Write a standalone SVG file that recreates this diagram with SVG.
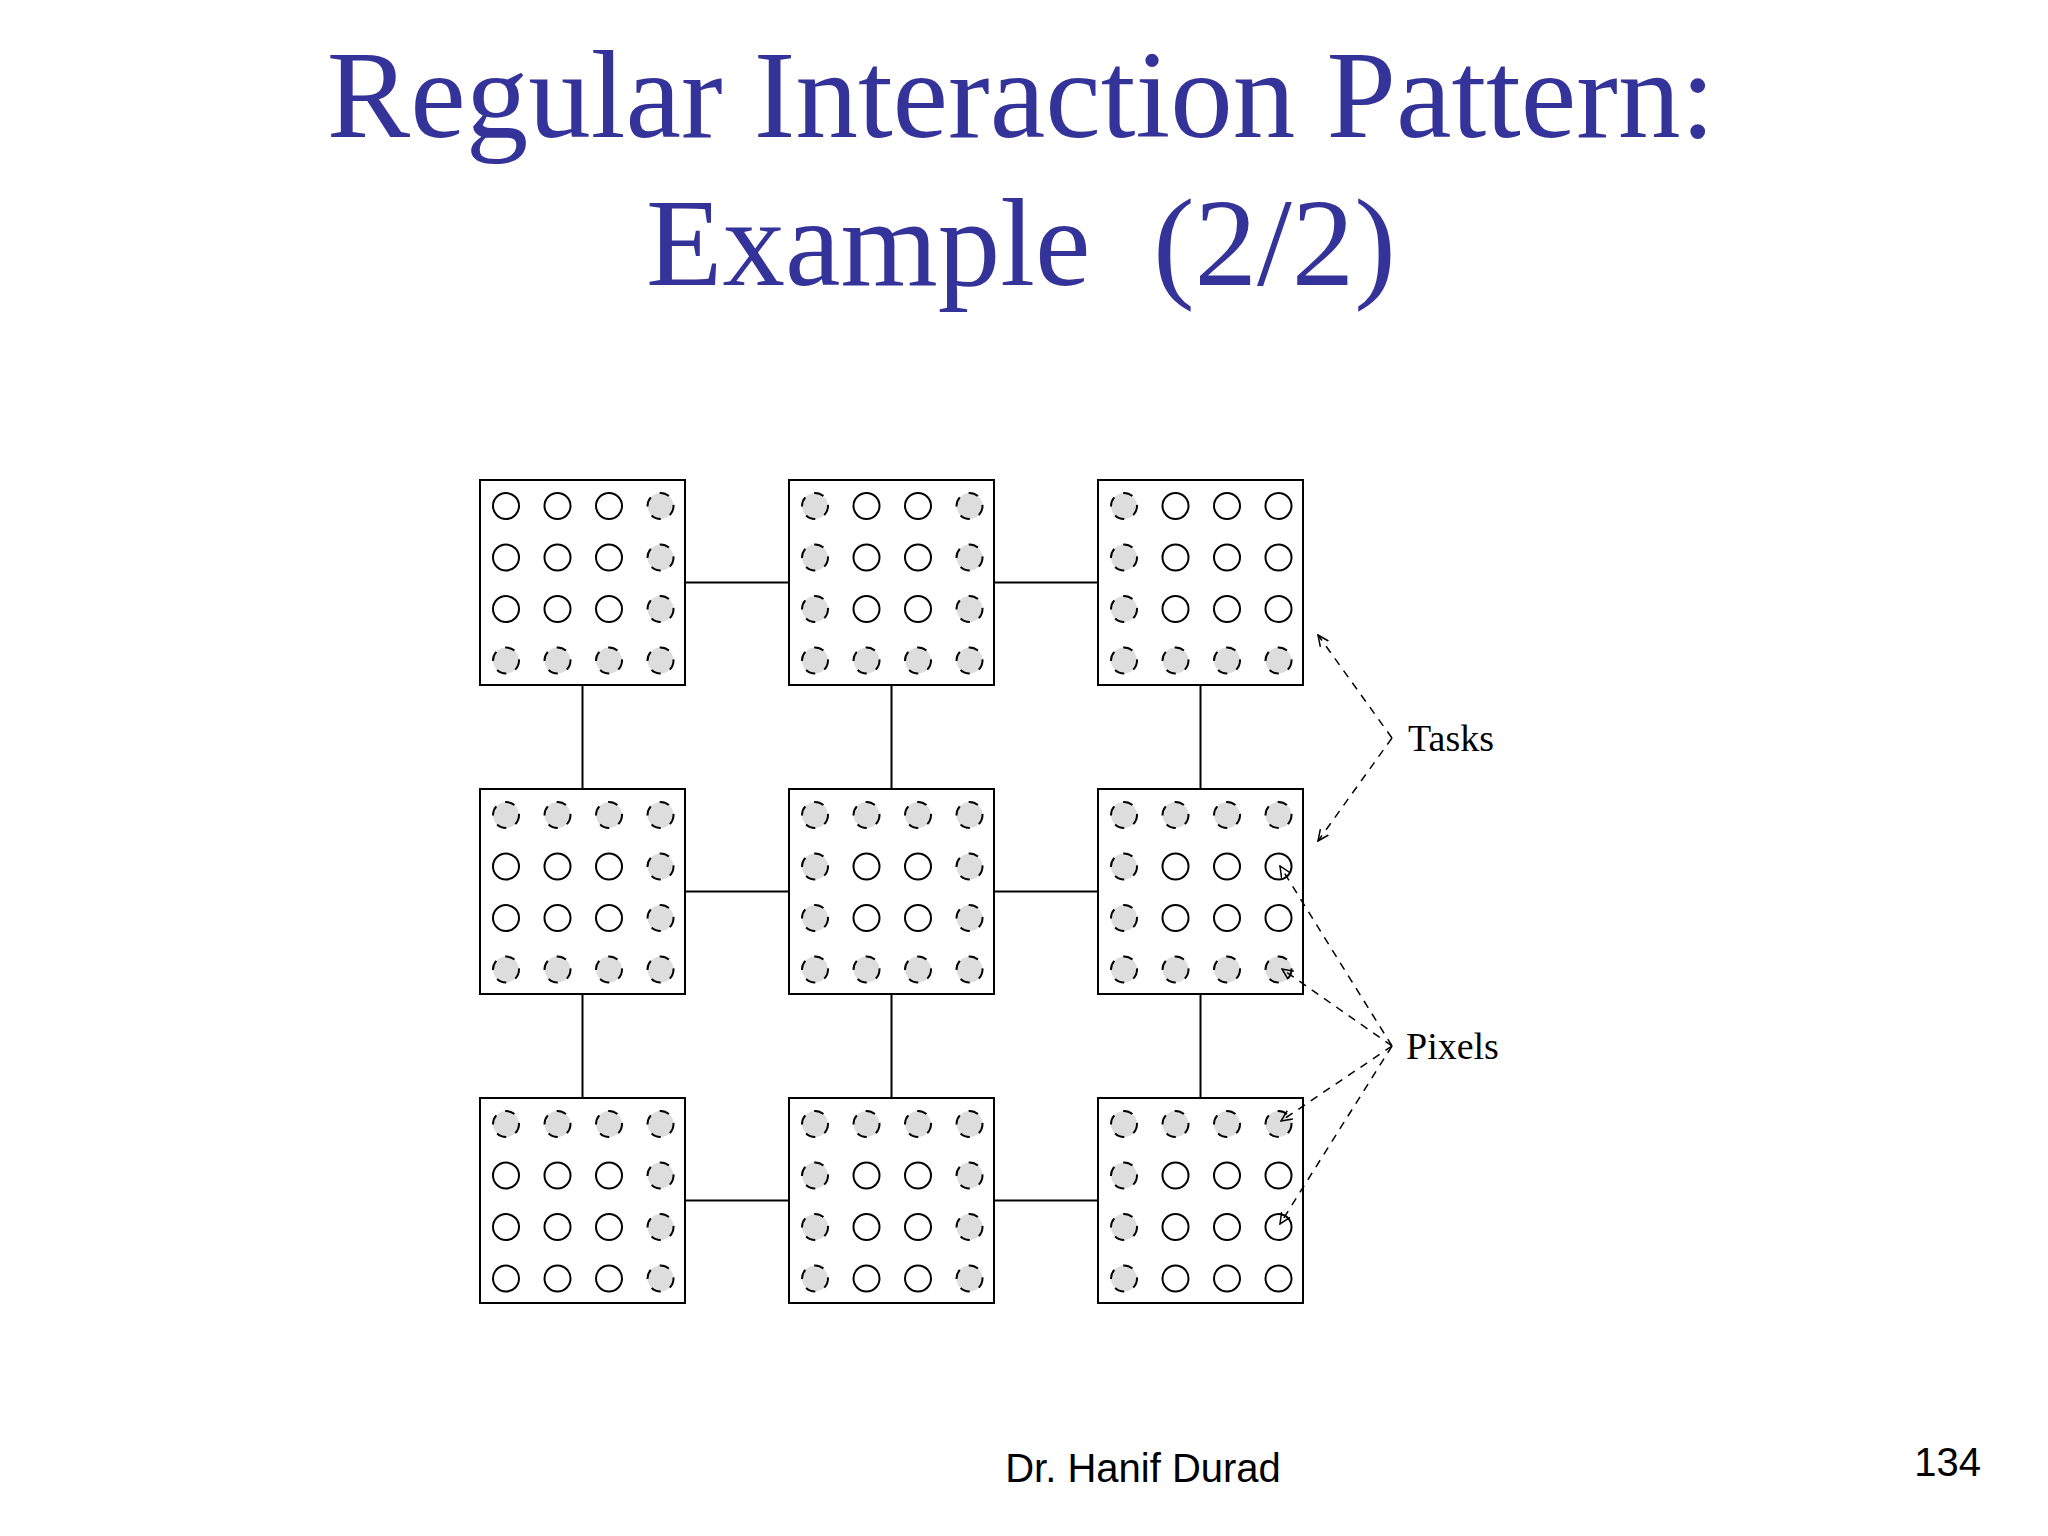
<svg xmlns="http://www.w3.org/2000/svg" width="2048" height="1536" viewBox="0 0 2048 1536">
<style>
.t{font-family:"Liberation Serif",serif;fill:#333399;font-size:125px;text-anchor:middle;white-space:pre}
.l{font-family:"Liberation Serif",serif;font-size:38px;fill:#000}
.f{font-family:"Liberation Sans",sans-serif;font-size:40px;fill:#000}
.box{fill:#fff;stroke:#000;stroke-width:2}
.p{fill:#fff;stroke:#000;stroke-width:2}
.b{fill:#ddd;stroke:#000;stroke-width:2;stroke-dasharray:10 10}
.c{stroke:#000;stroke-width:2;fill:none}
.d{stroke:#000;stroke-width:1.5;fill:none;stroke-dasharray:8 7}
</style>
<defs>
<circle id="p" r="13" class="p"/>
<circle id="b" r="13" class="b"/>
<marker id="ar" viewBox="0 0 12 12" refX="11" refY="6" markerWidth="12" markerHeight="12" markerUnits="userSpaceOnUse" orient="auto"><path d="M0,1 L11,6 L0,11" fill="none" stroke="#000" stroke-width="1.5"/></marker>
</defs>
<rect width="2048" height="1536" fill="#fff"/>
<text class="t" x="1021" y="137">Regular Interaction Pattern:</text>
<text class="t" x="1021" y="285" xml:space="preserve">Example  (2/2)</text>
<g id="task00" transform="translate(480,480)"><rect class="box" width="205" height="205"/>
<use href="#p" x="26" y="26"/><use href="#p" x="77.5" y="26"/><use href="#p" x="129" y="26"/><use href="#b" x="180.5" y="26"/>
<use href="#p" x="26" y="77.5"/><use href="#p" x="77.5" y="77.5"/><use href="#p" x="129" y="77.5"/><use href="#b" x="180.5" y="77.5"/>
<use href="#p" x="26" y="129"/><use href="#p" x="77.5" y="129"/><use href="#p" x="129" y="129"/><use href="#b" x="180.5" y="129"/>
<use href="#b" x="26" y="180.5"/><use href="#b" x="77.5" y="180.5"/><use href="#b" x="129" y="180.5"/><use href="#b" x="180.5" y="180.5"/></g>
<g id="task01" transform="translate(789,480)"><rect class="box" width="205" height="205"/>
<use href="#b" x="26" y="26"/><use href="#p" x="77.5" y="26"/><use href="#p" x="129" y="26"/><use href="#b" x="180.5" y="26"/>
<use href="#b" x="26" y="77.5"/><use href="#p" x="77.5" y="77.5"/><use href="#p" x="129" y="77.5"/><use href="#b" x="180.5" y="77.5"/>
<use href="#b" x="26" y="129"/><use href="#p" x="77.5" y="129"/><use href="#p" x="129" y="129"/><use href="#b" x="180.5" y="129"/>
<use href="#b" x="26" y="180.5"/><use href="#b" x="77.5" y="180.5"/><use href="#b" x="129" y="180.5"/><use href="#b" x="180.5" y="180.5"/></g>
<g id="task02" transform="translate(1098,480)"><rect class="box" width="205" height="205"/>
<use href="#b" x="26" y="26"/><use href="#p" x="77.5" y="26"/><use href="#p" x="129" y="26"/><use href="#p" x="180.5" y="26"/>
<use href="#b" x="26" y="77.5"/><use href="#p" x="77.5" y="77.5"/><use href="#p" x="129" y="77.5"/><use href="#p" x="180.5" y="77.5"/>
<use href="#b" x="26" y="129"/><use href="#p" x="77.5" y="129"/><use href="#p" x="129" y="129"/><use href="#p" x="180.5" y="129"/>
<use href="#b" x="26" y="180.5"/><use href="#b" x="77.5" y="180.5"/><use href="#b" x="129" y="180.5"/><use href="#b" x="180.5" y="180.5"/></g>
<g id="task10" transform="translate(480,789)"><rect class="box" width="205" height="205"/>
<use href="#b" x="26" y="26"/><use href="#b" x="77.5" y="26"/><use href="#b" x="129" y="26"/><use href="#b" x="180.5" y="26"/>
<use href="#p" x="26" y="77.5"/><use href="#p" x="77.5" y="77.5"/><use href="#p" x="129" y="77.5"/><use href="#b" x="180.5" y="77.5"/>
<use href="#p" x="26" y="129"/><use href="#p" x="77.5" y="129"/><use href="#p" x="129" y="129"/><use href="#b" x="180.5" y="129"/>
<use href="#b" x="26" y="180.5"/><use href="#b" x="77.5" y="180.5"/><use href="#b" x="129" y="180.5"/><use href="#b" x="180.5" y="180.5"/></g>
<g id="task11" transform="translate(789,789)"><rect class="box" width="205" height="205"/>
<use href="#b" x="26" y="26"/><use href="#b" x="77.5" y="26"/><use href="#b" x="129" y="26"/><use href="#b" x="180.5" y="26"/>
<use href="#b" x="26" y="77.5"/><use href="#p" x="77.5" y="77.5"/><use href="#p" x="129" y="77.5"/><use href="#b" x="180.5" y="77.5"/>
<use href="#b" x="26" y="129"/><use href="#p" x="77.5" y="129"/><use href="#p" x="129" y="129"/><use href="#b" x="180.5" y="129"/>
<use href="#b" x="26" y="180.5"/><use href="#b" x="77.5" y="180.5"/><use href="#b" x="129" y="180.5"/><use href="#b" x="180.5" y="180.5"/></g>
<g id="task12" transform="translate(1098,789)"><rect class="box" width="205" height="205"/>
<use href="#b" x="26" y="26"/><use href="#b" x="77.5" y="26"/><use href="#b" x="129" y="26"/><use href="#b" x="180.5" y="26"/>
<use href="#b" x="26" y="77.5"/><use href="#p" x="77.5" y="77.5"/><use href="#p" x="129" y="77.5"/><use href="#p" x="180.5" y="77.5"/>
<use href="#b" x="26" y="129"/><use href="#p" x="77.5" y="129"/><use href="#p" x="129" y="129"/><use href="#p" x="180.5" y="129"/>
<use href="#b" x="26" y="180.5"/><use href="#b" x="77.5" y="180.5"/><use href="#b" x="129" y="180.5"/><use href="#b" x="180.5" y="180.5"/></g>
<g id="task20" transform="translate(480,1098)"><rect class="box" width="205" height="205"/>
<use href="#b" x="26" y="26"/><use href="#b" x="77.5" y="26"/><use href="#b" x="129" y="26"/><use href="#b" x="180.5" y="26"/>
<use href="#p" x="26" y="77.5"/><use href="#p" x="77.5" y="77.5"/><use href="#p" x="129" y="77.5"/><use href="#b" x="180.5" y="77.5"/>
<use href="#p" x="26" y="129"/><use href="#p" x="77.5" y="129"/><use href="#p" x="129" y="129"/><use href="#b" x="180.5" y="129"/>
<use href="#p" x="26" y="180.5"/><use href="#p" x="77.5" y="180.5"/><use href="#p" x="129" y="180.5"/><use href="#b" x="180.5" y="180.5"/></g>
<g id="task21" transform="translate(789,1098)"><rect class="box" width="205" height="205"/>
<use href="#b" x="26" y="26"/><use href="#b" x="77.5" y="26"/><use href="#b" x="129" y="26"/><use href="#b" x="180.5" y="26"/>
<use href="#b" x="26" y="77.5"/><use href="#p" x="77.5" y="77.5"/><use href="#p" x="129" y="77.5"/><use href="#b" x="180.5" y="77.5"/>
<use href="#b" x="26" y="129"/><use href="#p" x="77.5" y="129"/><use href="#p" x="129" y="129"/><use href="#b" x="180.5" y="129"/>
<use href="#b" x="26" y="180.5"/><use href="#p" x="77.5" y="180.5"/><use href="#p" x="129" y="180.5"/><use href="#b" x="180.5" y="180.5"/></g>
<g id="task22" transform="translate(1098,1098)"><rect class="box" width="205" height="205"/>
<use href="#b" x="26" y="26"/><use href="#b" x="77.5" y="26"/><use href="#b" x="129" y="26"/><use href="#b" x="180.5" y="26"/>
<use href="#b" x="26" y="77.5"/><use href="#p" x="77.5" y="77.5"/><use href="#p" x="129" y="77.5"/><use href="#p" x="180.5" y="77.5"/>
<use href="#b" x="26" y="129"/><use href="#p" x="77.5" y="129"/><use href="#p" x="129" y="129"/><use href="#p" x="180.5" y="129"/>
<use href="#b" x="26" y="180.5"/><use href="#p" x="77.5" y="180.5"/><use href="#p" x="129" y="180.5"/><use href="#p" x="180.5" y="180.5"/></g>
<g id="connectors">
<line class="c" x1="685" y1="582.5" x2="789" y2="582.5"/><line class="c" x1="994" y1="582.5" x2="1098" y2="582.5"/>
<line class="c" x1="685" y1="891.5" x2="789" y2="891.5"/><line class="c" x1="994" y1="891.5" x2="1098" y2="891.5"/>
<line class="c" x1="685" y1="1200.5" x2="789" y2="1200.5"/><line class="c" x1="994" y1="1200.5" x2="1098" y2="1200.5"/>
<line class="c" x1="582.5" y1="685" x2="582.5" y2="789"/><line class="c" x1="582.5" y1="994" x2="582.5" y2="1098"/>
<line class="c" x1="891.5" y1="685" x2="891.5" y2="789"/><line class="c" x1="891.5" y1="994" x2="891.5" y2="1098"/>
<line class="c" x1="1200.5" y1="685" x2="1200.5" y2="789"/><line class="c" x1="1200.5" y1="994" x2="1200.5" y2="1098"/>
<line class="d" x1="1392" y1="738" x2="1318" y2="635" marker-end="url(#ar)"/>
<line class="d" x1="1392" y1="738" x2="1318" y2="841" marker-end="url(#ar)"/>
<line class="d" x1="1392" y1="1046" x2="1280" y2="866" marker-end="url(#ar)"/>
<line class="d" x1="1392" y1="1046" x2="1282" y2="969" marker-end="url(#ar)"/>
<line class="d" x1="1392" y1="1046" x2="1281" y2="1121" marker-end="url(#ar)"/>
<line class="d" x1="1392" y1="1046" x2="1280" y2="1224" marker-end="url(#ar)"/>
</g>
<g id="label-tasks"><text class="l" x="1408" y="751">Tasks</text></g>
<g id="label-pixels"><text class="l" x="1406" y="1059">Pixels</text></g>
<text class="f" x="1143" y="1482" text-anchor="middle">Dr. Hanif Durad</text>
<text class="f" x="1981" y="1476" text-anchor="end">134</text>
</svg>
